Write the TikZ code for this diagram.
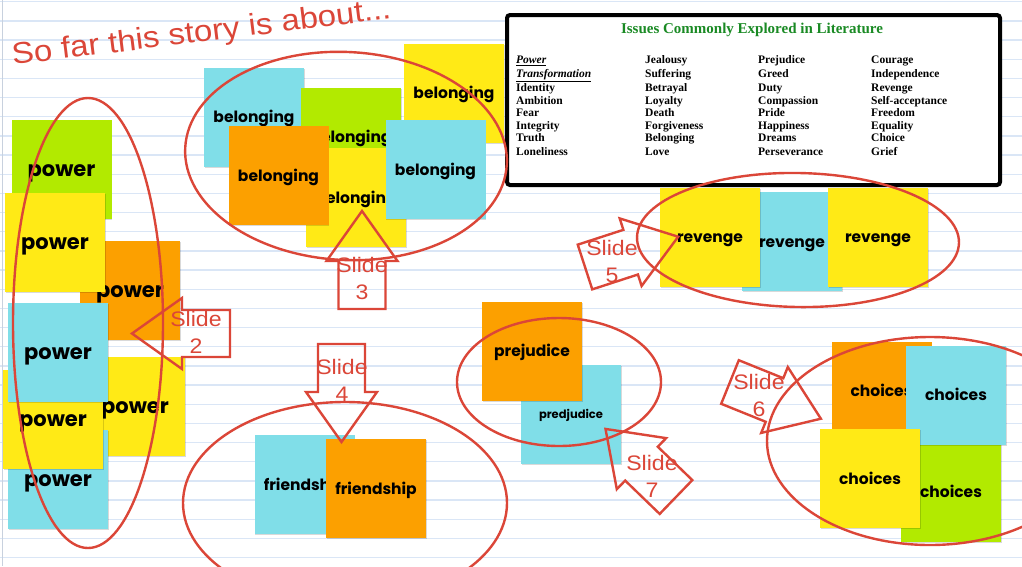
\documentclass[tikz,border=0pt]{standalone}
\usepackage{fontspec}
\setmainfont{Liberation Serif}
\newfontfamily\notefont{Poppins}
\newfontfamily\handfont[FakeStretch=1.1]{Liberation Sans}
\usetikzlibrary{shadows}
\definecolor{notegreen}{RGB}{178,234,0}
\definecolor{noteyellow}{RGB}{255,234,22}
\definecolor{noteorange}{RGB}{252,160,0}
\definecolor{noteblue}{RGB}{128,222,232}
\definecolor{penred}{RGB}{219,70,56}
\definecolor{rulecol}{RGB}{218,230,246}
\definecolor{titlegreen}{RGB}{26,138,36}
\tikzset{
  rule/.style={draw=rulecol, line width=1.4pt},
  sticky/.style={minimum width=100pt, minimum height=99pt, inner sep=0pt,
    text height=11.5pt, text depth=0pt,
    font=\notefont\bfseries\fontsize{15.5}{18}\selectfont,
    drop shadow={shadow xshift=0.8pt, shadow yshift=-1.2pt, fill=black, opacity=0.15}},
  bigword/.style={text height=14.5pt, font=\notefont\bfseries\fontsize{21}{24}\selectfont},
  tinyword/.style={text height=9pt, font=\notefont\bfseries\fontsize{11.5}{14}\selectfont},
  ring/.style={draw=penred, line width=2.4pt},
  slidepen/.style={draw=penred, line width=2.4pt, line join=miter},
  slidelabel/.style={text=penred, align=center, inner sep=0pt,
    font=\handfont\fontsize{21}{27}\selectfont},
  issue/.style={anchor=base west, inner sep=0pt, font=\bfseries\fontsize{11.5}{13}\selectfont},
}
\newcommand{\sticky}[6][]{\node[sticky, fill=#2, #1] (#3) at (#4,#5) {#6};}
\newcommand{\slidearrow}[3]{\draw[slidepen, shift={(#1,#2)}, rotate=#3]
  (0,-23.5) -- (48,-23.5) -- (48,-35.5) -- (98,0) -- (48,35.5) -- (48,23.5) -- (0,23.5) -- cycle;}
\newcommand{\issuecol}[3]{\foreach \word [count=\i] in {#3} {
  \pgfmathsetmacro\yy{{63.3,77.3,91.7,104,116,129.3,141.7,155}[\i-1]}
  \node[issue] (#1-\i) at (#2,\yy) {\word};}}

\begin{document}
\begin{tikzpicture}[x=1pt,y=-1pt]
    \path[use as bounding box, fill=white] (0,0) rectangle (1022,566);
    \clip (0,0) rectangle (1022,566);

    % ruled paper
    \foreach \k in {0,...,29}
        \draw[rule] (0,1.7+19.17*\k) -- (1022,1.7+19.17*\k);
    \draw[draw=rulecol!80!gray, line width=1pt] (2,0) -- (2,566);

    % power
    \sticky[bigword]{notegreen}{pwrA}{61.5}{169}{power}
    \sticky[bigword]{noteorange}{pwrC}{130}{290.5}{power}
    \sticky[bigword]{noteyellow}{pwrB}{55}{242.5}{power}
    \sticky[bigword]{noteyellow}{pwrE}{135}{406.5}{power}
    \sticky[bigword]{noteblue}{pwrG}{58}{479.5}{power}
    \sticky[bigword]{noteyellow}{pwrF}{53}{419.5}{power}
    \sticky[bigword]{noteblue}{pwrD}{58}{352}{power}

    % belonging
    \sticky{noteblue}{belA}{254}{117}{belonging}
    \sticky{notegreen}{belB}{351}{137}{belonging}
    \sticky{noteyellow}{belC}{454}{93}{belonging}
    \sticky{noteyellow}{belD}{356}{197.5}{belonging}
    \sticky{noteorange}{belE}{278.5}{175.5}{belonging}
    \sticky{noteblue}{belF}{435.5}{169.5}{belonging}

    % revenge
    \sticky{noteblue}{revB}{792}{241.5}{revenge}
    \sticky{noteyellow}{revA}{710}{237}{revenge}
    \sticky{noteyellow}{revC}{878}{237}{revenge}

    % prejudice
    \sticky[tinyword]{noteblue}{preB}{571}{414}{predjudice}
    \sticky{noteorange}{preA}{532}{351}{prejudice}

    % choices
    \sticky{noteorange}{choA}{881.5}{391}{choices}
    \sticky{notegreen}{choD}{951}{492}{choices}
    \sticky{noteblue}{choB}{956}{395}{choices}
    \sticky{noteyellow}{choC}{870}{478.5}{choices}

    % friendship
    \sticky{noteblue}{friA}{304.5}{484.5}{friendship}
    \sticky{noteorange}{friB}{376}{488.5}{friendship}

    % issues box
    \draw[line width=4pt, rounded corners=3pt, fill=white] (507,15) rectangle (1000,185);
    \node[text=titlegreen, font=\bfseries\fontsize{15}{18}\selectfont] (issuetitle) at (752,30)
        {Issues Commonly Explored in Literature};
    \issuecol{colA}{516}{{\underline{\textit{Power}}},{\underline{\textit{Transformation}}},Identity,Ambition,Fear,Integrity,Truth,Loneliness}
    \issuecol{colB}{645}{Jealousy,Suffering,Betrayal,Loyalty,Death,Forgiveness,Belonging,Love}
    \issuecol{colC}{758}{Prejudice,Greed,Duty,Compassion,Pride,Happiness,Dreams,Perseverance}
    \issuecol{colD}{871}{Courage,Independence,Revenge,Self-acceptance,Freedom,Equality,Choice,Grief}

    % circles round the groups
    \draw[ring] (88,323) ellipse [x radius=75, y radius=225];
    \draw[ring, rotate around={-3:(346,156)}] (346,156) ellipse [x radius=161, y radius=104];
    \draw[ring, rotate around={-1:(798,240)}] (798,240) ellipse [x radius=161, y radius=67];
    \draw[ring] (559,382) ellipse [x radius=102, y radius=64];
    \draw[ring] (930,441) ellipse [x radius=163, y radius=104];
    \draw[ring] (345,503) ellipse [x radius=162, y radius=101];

    % slide arrows
    \slidearrow{230}{333.5}{180}
    \slidearrow{362}{309}{90}
    \slidearrow{341.5}{344}{-90}
    \slidearrow{585}{267}{18}
    \slidearrow{730}{382}{-22}
    \slidearrow{676}{497}{136}
    \node[slidelabel] (slide2) at (196,332) {Slide\\2};
    \node[slidelabel] (slide3) at (362,278) {Slide\\3};
    \node[slidelabel] (slide4) at (342,380) {Slide\\4};
    \node[slidelabel] (slide5) at (612,261) {Slide\\5};
    \node[slidelabel] (slide6) at (759,395) {Slide\\6};
    \node[slidelabel] (slide7) at (652,476) {Slide\\7};

    \node[text=penred, rotate=7, anchor=base west, inner sep=0pt,
        font=\handfont\fontsize{30}{36}\selectfont] (storytitle) at (13,65) {So far this story is about...};
\end{tikzpicture}
\end{document}
